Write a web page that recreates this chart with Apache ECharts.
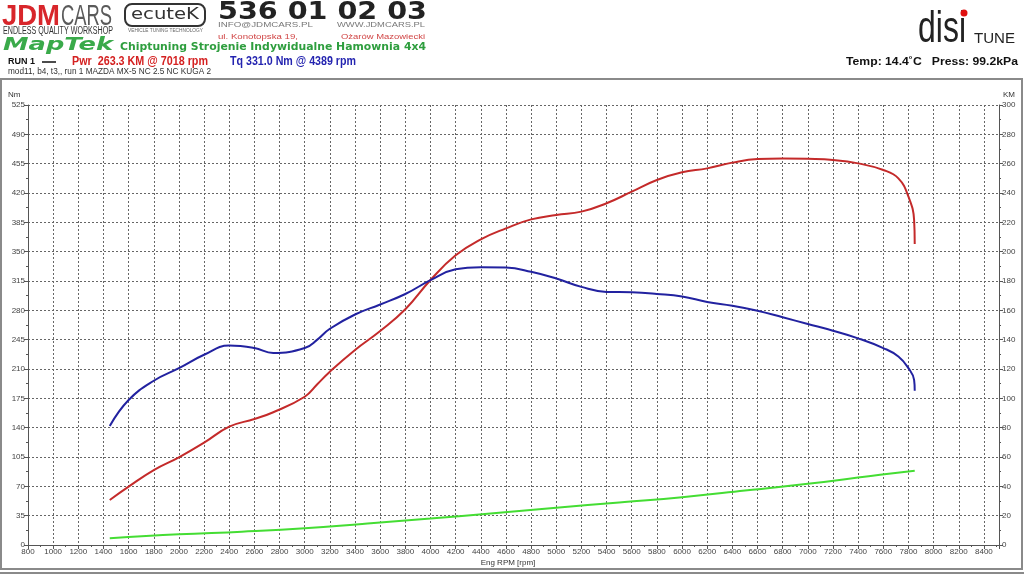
<!DOCTYPE html>
<html>
<head>
<meta charset="utf-8">
<script src="https://cdn.jsdelivr.net/npm/echarts@6/dist/echarts.min.js"></script>
<style>
  html, body { margin: 0; padding: 0; background: #fff; }
  #chart { width: 1024px; height: 576px; }
</style>
</head>
<body>
<div id="chart"></div>
<script>
const rpm = [1450, 1600, 1800, 2000, 2200, 2400, 2600, 2750, 3000, 3100, 3200, 3400, 3600, 3800, 4000,
  4200, 4400, 4600, 4800, 5000, 5200, 5400, 5600, 5800, 6000, 6200, 6400, 6600, 6800, 7000,
  7200, 7400, 7600, 7720, 7800, 7845, 7850]
const torqueNm = [142, 173, 196, 211, 227, 238, 235, 229, 235, 245, 258, 275, 287, 299.5, 316,
  329, 331.5, 331, 326, 318, 308, 302, 301.5, 299.5, 296.5, 290, 285.5, 279.5, 271.7, 263.7,
  255.7, 246.6, 235, 225, 211, 197, 184]
const powerKm = [30.7, 39.8, 51.1, 59.8, 69.8, 80.7, 85.9, 90.5, 101.1, 109.6, 118.2, 133, 145.9, 160.7, 180.7,
  197.5, 208.4, 215.9, 222, 225, 227.3, 233, 240.9, 248.9, 254.1, 256.8, 260.7, 263.2, 263.6, 263.3,
  262.5, 260.2, 255.7, 250, 237.5, 221.6, 205.2]
// zielona linia (straty) na osi KM
const lossRpm = [1450, 2000, 2500, 3000, 3500, 4000, 4500, 5000, 5500, 6000, 6500, 7000, 7500, 7850]
const lossKm = [4.6, 7.3, 9.1, 11.4, 14.7, 18, 21.7, 25.4, 29, 32.6, 37.1, 41.7, 47.1, 50.7]

const chart = echarts.init(document.getElementById('chart'))
const axisFont = '"Liberation Sans Narrow", "Liberation Sans", Arial'

// dopasowanie szerokosci napisow naglowka
const ctx = document.createElement('canvas').getContext('2d')
function txt(x, y, text, font, fill, width) {
  ctx.font = font
  const w = ctx.measureText(text).width
  return {
    type: 'text', x: x, y: y, scaleX: width ? width / w : 1, silent: true,
    style: { text: text, font: font, fill: fill, verticalAlign: 'middle' }
  }
}

const header = [
  // ramka
  { type: 'rect', shape: { x: 1, y: 79, width: 1021, height: 490 }, style: { fill: null, stroke: '#8a8a8a', lineWidth: 2 } },
  { type: 'line', shape: { x1: 0, y1: 573, x2: 1024, y2: 573 }, style: { stroke: '#8a8a8a', lineWidth: 2 } },
  txt(2, 17, 'JDM', 'bold 30px "Liberation Sans"', '#d8262b', 58),
  txt(61, 17, 'CARS', '30px "Liberation Sans"', '#5a5a5a', 51),
  txt(3, 31, 'ENDLESS QUALITY WORKSHOP', '10px "Liberation Sans"', '#333', 110),
  { type: 'rect', shape: { x: 125, y: 4, width: 80, height: 22, r: 7 }, style: { fill: '#fff', stroke: '#333', lineWidth: 2 } },
  txt(131, 15, 'ecuteK', '16px "DejaVu Sans"', '#333', 68),
  txt(128, 31, 'VEHICLE TUNING TECHNOLOGY', '5px "Liberation Sans"', '#666', 75),
  txt(218, 12, '536 01 02 03', 'bold 25px "DejaVu Sans"', '#222', 209),
  txt(218, 25, 'INFO@JDMCARS.PL', '8px "Liberation Sans"', '#777', 95),
  txt(337, 25, 'WWW.JDMCARS.PL', '8px "Liberation Sans"', '#777', 88),
  txt(218, 37, 'ul. Konotopska 19,', '7px "Liberation Sans"', '#d04444', 80),
  txt(341, 37, 'Ożarów Mazowiecki', '7px "Liberation Sans"', '#d04444', 84),
  txt(3, 46, 'MapTek', 'italic bold 17px "DejaVu Sans"', '#3aaa4a', 110),
  txt(120, 47, 'Chiptuning Strojenie Indywidualne Hamownia 4x4', 'bold 10px "DejaVu Sans"', '#2e9e3e', 306),
  txt(8, 62, 'RUN 1', 'bold 9px "Liberation Sans"', '#111', 27),
  { type: 'line', shape: { x1: 42, y1: 62, x2: 56, y2: 62 }, style: { stroke: '#111', lineWidth: 1.5 } },
  txt(72, 62, 'Pwr  263.3 KM @ 7018 rpm', 'bold 12px "Liberation Sans"', '#d42020', 136),
  txt(230, 62, 'Tq 331.0 Nm @ 4389 rpm', 'bold 12px "Liberation Sans"', '#2424b0', 126),
  txt(8, 72, 'mod11, b4, t3,, run 1 MAZDA MX-5 NC 2.5 NC KUGA 2', '9px "Liberation Sans"', '#333', 203),
  txt(918, 30, 'disi', '44px "Liberation Sans"', '#222', 48),
  { type: 'circle', shape: { cx: 964, cy: 13, r: 3.5 }, style: { fill: '#e01010' } },
  txt(974, 39, 'TUNE', '14px "Liberation Sans"', '#222', 41),
  txt(846, 62, 'Temp: 14.4˚C   Press: 99.2kPa', 'bold 10px "Liberation Sans"', '#111', 172),
  // nazwy osi
  txt(8, 95, 'Nm', '8px ' + axisFont, '#333'),
  txt(1003, 95, 'KM', '8px ' + axisFont, '#333'),
  { type: 'text', x: 508, y: 563, silent: true, style: { text: 'Eng RPM [rpm]', font: '8px ' + axisFont, fill: '#333', align: 'center', verticalAlign: 'middle' } }
]

const gridDash = { show: true, lineStyle: { color: '#666', type: [2, 2], width: 1 } }
const axisLine = { show: true, lineStyle: { color: '#555', width: 1 } }
const labelStyle = { color: '#444', fontSize: 8, fontFamily: axisFont, margin: 3, formatter: v => String(v) }

const option = {
  animation: false,
  backgroundColor: '#fff',
  grid: { left: 28, right: 25, top: 105, bottom: 31 },
  xAxis: {
    type: 'value', min: 800, max: 8520, interval: 200,
    axisLine: axisLine,
    axisTick: { show: true, length: 4, lineStyle: { color: '#555' } },
    minorTick: { show: true, splitNumber: 2, length: 2, lineStyle: { color: '#555' } },
    axisLabel: Object.assign({ showMaxLabel: false }, labelStyle),
    splitLine: gridDash
  },
  yAxis: [
    {
      type: 'value', min: 0, max: 525, interval: 35,
      axisLine: axisLine,
      axisTick: { show: true, length: 4, lineStyle: { color: '#555' } },
      minorTick: { show: true, splitNumber: 2, length: 2, lineStyle: { color: '#555' } },
      axisLabel: labelStyle,
      splitLine: gridDash
    },
    {
      type: 'value', min: 0, max: 300, interval: 20, position: 'right',
      axisLine: axisLine,
      axisTick: { show: true, length: 4, lineStyle: { color: '#555' } },
      minorTick: { show: true, splitNumber: 2, length: 2, lineStyle: { color: '#555' } },
      axisLabel: labelStyle,
      splitLine: { show: false }
    }
  ],
  graphic: header,
  series: [
    {
      name: 'Pwr', type: 'line', yAxisIndex: 1, smooth: 0.45, showSymbol: false,
      lineStyle: { color: '#c42a2a', width: 2 },
      data: rpm.map((r, i) => [r, powerKm[i]])
    },
    {
      name: 'Tq', type: 'line', yAxisIndex: 0, smooth: 0.45, showSymbol: false,
      lineStyle: { color: '#2222a0', width: 2 },
      data: rpm.map((r, i) => [r, torqueNm[i]])
    },
    {
      name: 'Loss', type: 'line', yAxisIndex: 1, smooth: 0.45, showSymbol: false,
      lineStyle: { color: '#44dd33', width: 2 },
      data: lossRpm.map((r, i) => [r, lossKm[i]])
    }
  ]
}
chart.setOption(option)
</script>
</body>
</html>
